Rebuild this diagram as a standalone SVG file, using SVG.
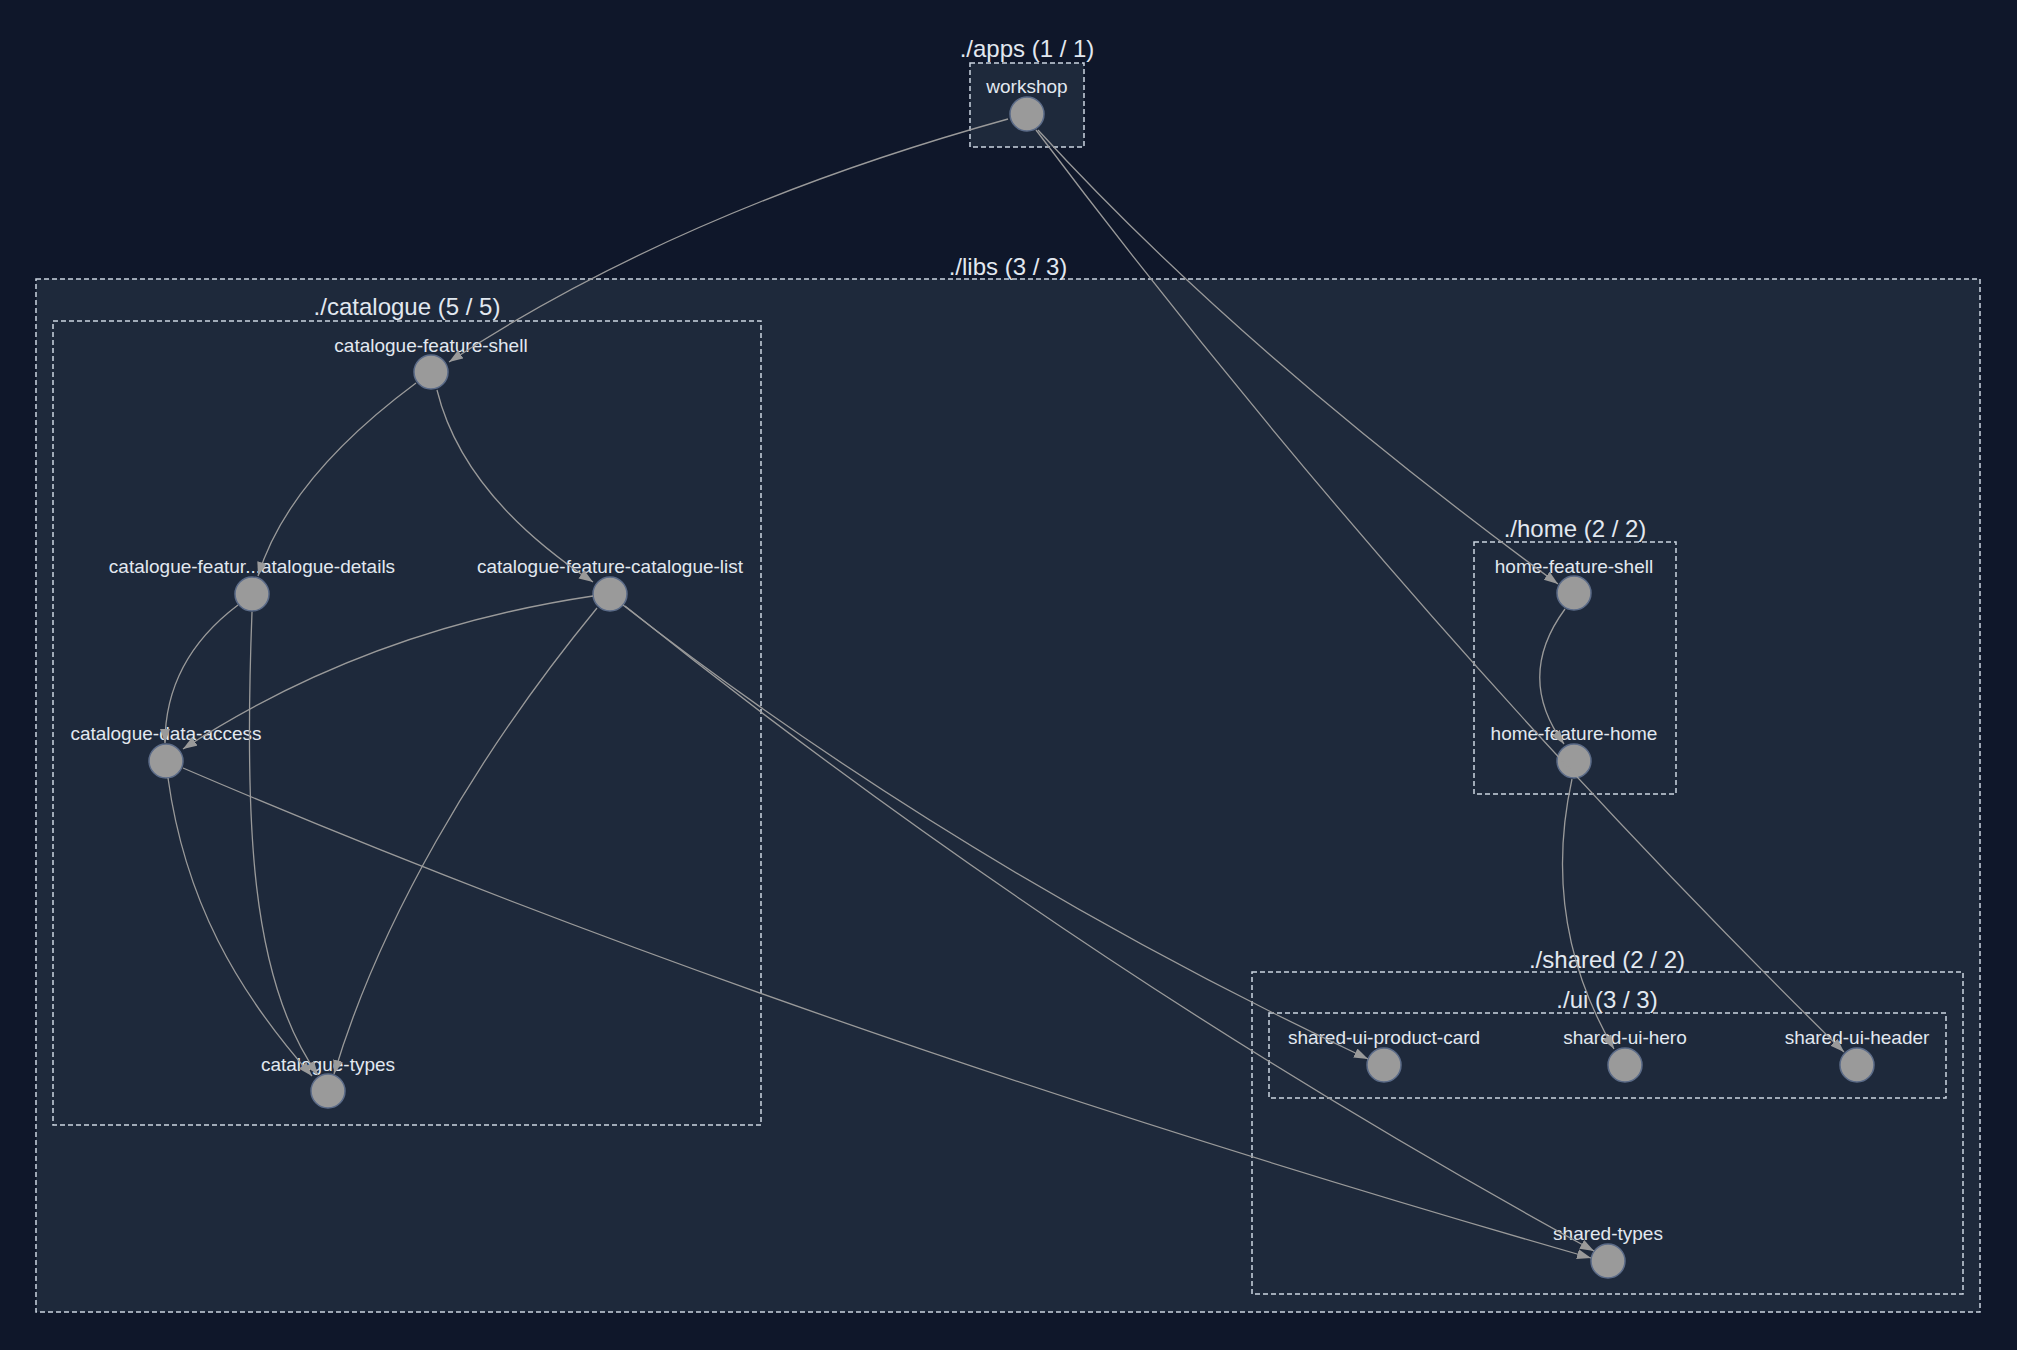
<svg xmlns="http://www.w3.org/2000/svg" width="2017" height="1350" viewBox="0 0 2017 1350">
<defs>
<style>
.grp{fill:#1e293b;stroke:#cbd5e1;stroke-width:1.5;stroke-dasharray:5 3}
.title{font-family:"Liberation Sans",Arial,sans-serif;font-size:24px;fill:#e2e8f0;text-anchor:middle}
.lbl{font-family:"Liberation Sans",Arial,sans-serif;font-size:19px;fill:#e2e8f0;text-anchor:middle}
.dot{fill:#9a9a9a;stroke:#5b6b88;stroke-width:1.5}
.edge{fill:none;stroke:#9a9a9a;stroke-width:1.3;marker-end:url(#arr)}
</style>
<marker id="arr" markerUnits="userSpaceOnUse" markerWidth="15" markerHeight="11" refX="14" refY="5" orient="auto">
<path d="M0,0 L14,5 L0,10 z" fill="#9a9a9a"/>
</marker>
</defs>
<rect width="2017" height="1350" fill="#0f172a"/>
<g id="groups">
<rect class="grp" x="970" y="63" width="114" height="84"/>
<text class="title" x="1027" y="57">./apps (1 / 1)</text>
<rect class="grp" x="36" y="279" width="1944" height="1033"/>
<text class="title" x="1008" y="275">./libs (3 / 3)</text>
<rect class="grp" x="53" y="321" width="708" height="804"/>
<text class="title" x="407" y="315">./catalogue (5 / 5)</text>
<rect class="grp" x="1474" y="542" width="202" height="252"/>
<text class="title" x="1575" y="537">./home (2 / 2)</text>
<rect class="grp" x="1252" y="972" width="711" height="322"/>
<text class="title" x="1607" y="968">./shared (2 / 2)</text>
<rect class="grp" x="1269" y="1013" width="677" height="85"/>
<text class="title" x="1607" y="1008">./ui (3 / 3)</text>
</g>
<g id="node-workshop"><circle class="dot" cx="1027" cy="114" r="17"/><text class="lbl" x="1027" y="93">workshop</text></g>
<g id="node-catalogue-feature-shell"><circle class="dot" cx="431" cy="372" r="17"/><text class="lbl" x="431" y="352">catalogue-feature-shell</text></g>
<g id="node-catalogue-feature-catalogue-details"><circle class="dot" cx="252" cy="594" r="17"/><text class="lbl" x="252" y="573">catalogue-featur...atalogue-details</text></g>
<g id="node-catalogue-feature-catalogue-list"><circle class="dot" cx="610" cy="594" r="17"/><text class="lbl" x="610" y="573">catalogue-feature-catalogue-list</text></g>
<g id="node-catalogue-data-access"><circle class="dot" cx="166" cy="761" r="17"/><text class="lbl" x="166" y="740">catalogue-data-access</text></g>
<g id="node-catalogue-types"><circle class="dot" cx="328" cy="1091" r="17"/><text class="lbl" x="328" y="1071">catalogue-types</text></g>
<g id="node-home-feature-shell"><circle class="dot" cx="1574" cy="593" r="17"/><text class="lbl" x="1574" y="573">home-feature-shell</text></g>
<g id="node-home-feature-home"><circle class="dot" cx="1574" cy="761" r="17"/><text class="lbl" x="1574" y="740">home-feature-home</text></g>
<g id="node-shared-ui-product-card"><circle class="dot" cx="1384" cy="1065" r="17"/><text class="lbl" x="1384" y="1044">shared-ui-product-card</text></g>
<g id="node-shared-ui-hero"><circle class="dot" cx="1625" cy="1065" r="17"/><text class="lbl" x="1625" y="1044">shared-ui-hero</text></g>
<g id="node-shared-ui-header"><circle class="dot" cx="1857" cy="1065" r="17"/><text class="lbl" x="1857" y="1044">shared-ui-header</text></g>
<g id="node-shared-types"><circle class="dot" cx="1608" cy="1261" r="17"/><text class="lbl" x="1608" y="1240">shared-types</text></g>
<g id="edges">
<path class="edge" d="M1008,119 Q680,210 449,362"/>
<path class="edge" d="M1038,130 Q1240,351 1558,584"/>
<path class="edge" d="M1036,130 Q1405,620 1844,1052"/>
<path class="edge" d="M416,383 Q288,478 258,576"/>
<path class="edge" d="M437,390 Q463,496 593,582"/>
<path class="edge" d="M238,605 Q165,660 165,743"/>
<path class="edge" d="M252,612 C244,820 250,980 318,1075"/>
<path class="edge" d="M593,596 Q365,630 183,749"/>
<path class="edge" d="M597,608 C474,758 379,924 334,1074"/>
<path class="edge" d="M168,778 C185,900 236,990 312,1076"/>
<path class="edge" d="M183,768 Q789,1028 1591,1258"/>
<path class="edge" d="M623,605 Q956,865 1368,1059"/>
<path class="edge" d="M625,606 Q1078,969 1594,1251"/>
<path class="edge" d="M1565,609 Q1515,677 1564,744"/>
<path class="edge" d="M1572,779 C1552,870 1562,960 1614,1049"/>
</g>
</svg>
